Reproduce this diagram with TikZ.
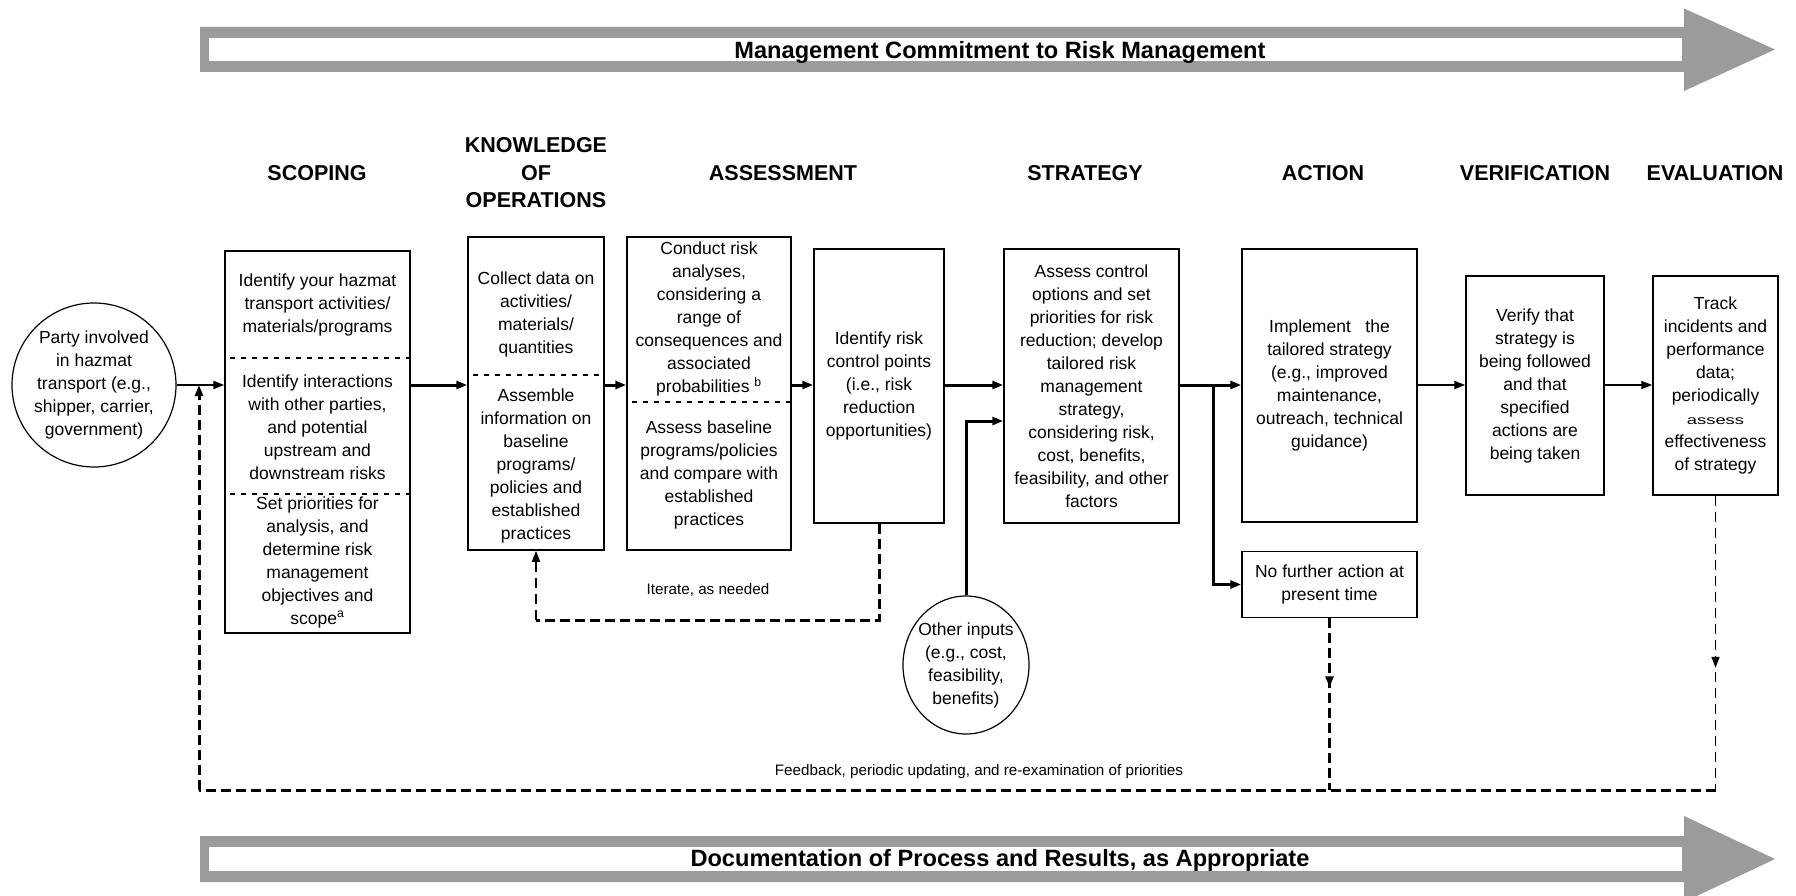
\documentclass[tikz,border=0pt]{standalone}
\usepackage{fontspec}
\setmainfont{Liberation Sans}
\usepackage{graphicx}
\usepackage{tikz}
\usetikzlibrary{arrows.meta,positioning,shapes.geometric}
\definecolor{bandgray}{HTML}{9B9B9B}

\begin{document}
\begin{tikzpicture}[x=1pt,y=-1pt,>={Triangle[length=11pt,width=8pt]},
                    line join=miter]
  \tikzstyle{stage}=[draw,line width=1.5pt,inner sep=0pt,align=center,
                     font=\fontsize{17.5}{23}\selectfont]
  \tikzstyle{txt}=[inner sep=0pt,align=center,font=\fontsize{17.5}{23}\selectfont]
  \tikzstyle{party}=[draw,circle,line width=1.2pt,inner sep=0pt,align=center,
                     font=\fontsize{17.5}{23}\selectfont]
  \tikzstyle{head}=[align=center,font=\fontsize{21.5}{27.5}\selectfont\bfseries]
  \tikzstyle{band}=[font=\fontsize{23.6}{27}\selectfont\bfseries]
  \tikzstyle{note}=[font=\fontsize{15.2}{18}\selectfont]
  \tikzstyle{flow}=[line width=3pt]
  \tikzstyle{thin flow}=[line width=1.6pt]
  \tikzstyle{divider}=[line width=1.2pt,dash pattern=on 5pt off 6pt,shorten <=6pt]
  \tikzstyle{loopback}=[line width=3pt,dash pattern=on 10pt off 5pt]
  \tikzstyle{loopback thin}=[line width=1.5pt,dash pattern=on 10pt off 6pt]

  \useasboundingbox (0,0) rectangle (1796,896);

  \fill[bandgray] (200,27) -- (1684,27) -- (1684,8.5) -- (1775,49.5) -- (1684,91)
                  -- (1684,72) -- (200,72) -- cycle;
  \fill[white] (209,38) rectangle (1682,61);
  \node[band] (commit) at (1000,52) {Management Commitment to Risk Management};

  \fill[bandgray] (200,836) -- (1684,836) -- (1684,816) -- (1775,859) -- (1684,902)
                  -- (1684,882) -- (200,882) -- cycle;
  \fill[white] (209,847) rectangle (1682,871);
  \node[band] (docu) at (1000,860) {Documentation of Process and Results, as Appropriate};

  \node[head] (hscope)  at (317,173)  {SCOPING};
  \node[head] (hknow)   at (536,173)  {KNOWLEDGE\\OF\\OPERATIONS};
  \node[head] (hassess) at (783,173)  {ASSESSMENT};
  \node[head] (hstrat)  at (1085,173) {STRATEGY};
  \node[head] (hact)    at (1323,173) {ACTION};
  \node[head] (hverify) at (1535,173) {VERIFICATION};
  \node[head] (heval)   at (1715,173) {EVALUATION};

  \node[party,minimum size=164pt] (party) at (94,385)
       {Party involved\\in hazmat\\transport (e.g.,\\shipper, carrier,\\government)};

  \node[stage,minimum width=185pt,minimum height=382pt] (scope) at (317.5,442) {};
  \node[txt] (scope1) at (317.5,305) {Identify your hazmat\\transport activities/\\materials/programs};
  \node[txt] (scope2) at (317.5,427) {Identify interactions\\with other parties,\\and potential\\upstream and\\downstream risks};
  \node[txt] (scope3) at (317.5,562) {Set priorities for\\analysis, and\\determine risk\\management\\objectives and\\scope\textsuperscript{a}};

  \node[stage,minimum width=136pt,minimum height=313pt] (know) at (536,393.5) {};
  \node[txt] (know1) at (536,314) {Collect data on\\activities/\\materials/\\quantities};
  \node[txt] (know2) at (536,466) {Assemble\\information on\\baseline\\programs/\\policies and\\established\\practices};

  \node[stage,minimum width=164pt,minimum height=313pt] (assess) at (709,393.5) {};
  \node[txt] (assess1) at (709,319) {Conduct risk\\analyses,\\considering a\\range of\\consequences and\\associated\\probabilities \textsuperscript{b}};
  \node[txt] (assess2) at (709,475) {Assess baseline\\programs/policies\\and compare with\\established\\practices};

  \node[stage,minimum width=130pt,minimum height=274pt] (ctrl) at (879,386)
       {Identify risk\\control points\\(i.e., risk\\reduction\\opportunities)};
  \node[stage,minimum width=175pt,minimum height=274pt] (strat) at (1091.5,386)
       {Assess control\\options and set\\priorities for risk\\reduction; develop\\tailored risk\\management\\strategy,\\considering risk,\\cost, benefits,\\feasibility, and other\\factors};
  \node[stage,minimum width=175pt,minimum height=273pt] (act) at (1329.5,385.5)
       {Implement\ \ \ the\\tailored strategy\\(e.g., improved\\maintenance,\\outreach, technical\\guidance)};
  \node[stage,minimum width=175pt,minimum height=66pt,below=28pt of act] (nofurther)
       {No further action at\\present time};
  \node[stage,minimum width=138pt,minimum height=219pt] (verify) at (1535,385.5)
       {Verify that\\strategy is\\being followed\\and that\\specified\\actions are\\being taken};
  \node[stage,minimum width=125pt,minimum height=219pt] (evalbox) at (1715.5,385.5)
       {Track\\incidents and\\performance\\data;\\periodically\\\scalebox{1.05}[0.72]{assess}\\effectiveness\\of strategy};

  \node[party,ellipse,inner sep=-5pt,minimum width=126pt,minimum height=138pt] (other) at (966,665)
       {Other inputs\\(e.g., cost,\\feasibility,\\benefits)};

  \draw[divider] (scope.west |- 0,358) -- (scope.east |- 0,358);
  \draw[divider] (scope.west |- 0,494) -- (scope.east |- 0,494);
  \draw[divider] (know.west |- 0,375) -- (know.east |- 0,375);
  \draw[divider] (assess.west |- 0,402) -- (assess.east |- 0,402);

  \coordinate (mainline) at (0,385);
  \coordinate (split) at (1213,385);
  \coordinate (fbleft) at (199,790);
  \coordinate (iterbase) at (536,620);

  \path[->] (party.east) edge[line width=2pt] (scope.west |- mainline)
        (scope.east |- mainline) edge[flow] (know.west |- mainline)
        (know.east |- mainline) edge[flow] (assess.west |- mainline)
        (assess.east |- mainline) edge[flow] (ctrl.west |- mainline)
        (ctrl.east |- mainline) edge[flow] (strat.west |- mainline)
        (strat.east |- mainline) edge[flow] (act.west |- mainline)
        (act.east |- mainline) edge[thin flow] (verify.west |- mainline)
        (verify.east |- mainline) edge[thin flow] (evalbox.west |- mainline);

  \draw[flow,->] (split) |- (nofurther.west);
  \draw[flow,->] (other.north) |- (strat.west |- 0,421);

  \draw[loopback] (ctrl.south) |- (iterbase);
  \draw[loopback thin,->] (iterbase) -- (know.south);
  \node[note] (iterate) at (708,590) {Iterate, as needed};

  \draw[loopback] (evalbox.south |- fbleft) -- (fbleft);
  \draw[loopback,->] (fbleft) -- (fbleft |- mainline);
  \draw[loopback,->] (nofurther.south) -- ++(0,69);
  \draw[loopback] (nofurther.south) -- (nofurther.south |- fbleft);
  \draw[loopback thin,->] (evalbox.south) -- ++(0,172);
  \draw[loopback thin] (evalbox.south) -- (evalbox.south |- fbleft);
  \node[note] (feedback) at (979,772) {Feedback, periodic updating, and re-examination of priorities};
\end{tikzpicture}
\end{document}
